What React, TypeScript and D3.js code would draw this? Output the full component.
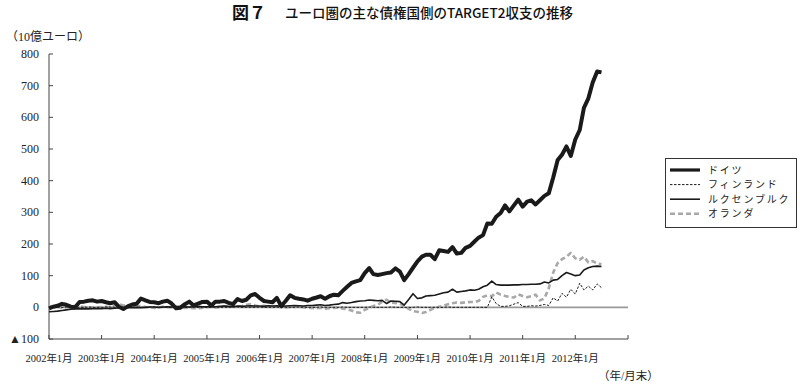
import * as d3 from 'd3';

// monthly, 2002年1月 .. 2012年7月 (10億ユーロ)
const germany = [
  -3, 2, 5, 11, 8, 2, 0, 17, 18, 21, 22, 18,
  20, 16, 13, 16, 2, -5, 3, 9, 11, 28, 22, 17,
  16, 13, 18, 21, 12, -3, -1, 10, 18, 6, 12, 17,
  18, 6, 18, 18, 20, 14, 10, 26, 20, 24, 38, 42,
  30, 20, 18, 16, 30, 4, 20, 38, 30, 27, 25, 21,
  27, 31, 35, 27, 35, 40, 38, 52, 65, 77, 82, 86,
  108, 124, 105, 102, 105, 108, 110, 123, 113, 86, 105, 125,
  145, 160, 166, 166, 152, 180, 178, 175, 190, 170, 172, 188,
  194, 208, 220, 228, 265, 264, 286, 298, 322, 303, 322, 340,
  318, 334, 338, 325, 338, 352, 360, 410, 465, 482, 508, 478,
  530, 560, 630, 660, 710, 745, 742,
];

const finland = [
  1, 1, 0, 0, 1, 2, 1, 0, 0, 1, 0, 0,
  0, 1, 1, 0, 0, 1, 2, 1, 0, 0, 0, 1,
  1, 0, 0, 0, 1, 0, 0, 0, 1, 1, 0, 0,
  0, 0, 1, 0, 0, 0, 1, 1, 0, 0, 0, 0,
  1, 0, 0, 0, 0, 1, 0, 0, 0, 1, 0, 0,
  0, 0, 1, 0, 0, 0, 0, 1, 0, 0, 0, 0,
  0, 1, 0, 0, 0, 0, 1, 0, 0, 0, 0, 0,
  1, 0, 0, 0, 0, 0, 0, 1, 0, 0, 0, 0,
  0, 0, 0, 0, 0, 33, 12, 3, 3, 5, 10, 15,
  3, 3, 5, 4, 6, 9, 6, 30, 20, 44, 32, 57,
  42, 76, 55, 67, 55, 74, 62,
];

const luxembourg = [
  -14, -13, -12, -10, -8, -6, -5, -5, -4, -5, -4, -4,
  -4, -3, -4, -3, -2, -2, -1, -1, 0, -1, 0, 1,
  1, 0, 1, 2, 1, 0, 1, 2, 1, 2, 3, 2,
  2, 3, 2, 3, 4, 3, 2, 4, 3, 4, 5, 4,
  4, 3, 5, 4, 5, 3, 4, 5, 6, 5, 4, 6,
  6, 7, 8, 6, 7, 9, 10, 15, 13, 15, 18, 20,
  21, 23, 22, 21, 22, 12, 20, 19, 18, 7, 25, 43,
  28, 30, 36, 37, 38, 42, 46, 48, 57, 48, 50, 52,
  55, 54, 57, 65, 70, 83, 72, 70, 70, 70, 71, 71,
  72, 72, 73, 73, 74, 80, 77, 86, 88, 100, 110, 105,
  100, 102, 118, 125, 129, 130, 129,
];

const netherlands = [
  2, 3, 1, -1, 0, 2, 4, 3, 1, 0, -1, 0,
  1, 2, 0, 4, 10, 6, 8, 3, 2, 5, 1, 0,
  -2, -1, 2, 1, 0, 3, 2, -2, -1, -3, -4, -1,
  0, 2, -1, 1, 3, 2, 5, 3, 4, 8, 10, 6,
  3, 5, 2, 1, 3, 0, -1, 2, 1, 3, 0, -2,
  -2, -3, -1, -4, -3, -2, -1, -4, -6, -10, -16, -17,
  -8, -2, 4, 8, 18, 24, 15, 14, 12, 4, -5, -12,
  -14, -18, -15, -8, -2, 2, 5, 10, 13, 15, 14, 16,
  17, 17, 20, 33, 38, 35, 47, 40, 36, 33, 31, 41,
  36, 32, 35, 40, 22, 28, 60, 110, 140, 152, 160, 172,
  155, 150, 160, 142, 146, 138, 136,
];

const seriesNames = ['ドイツ', 'フィンランド', 'ルクセンブルク', 'オランダ'];
const yTicks = [-100, 0, 100, 200, 300, 400, 500, 600, 700, 800];
const yearTicks = [2002, 2003, 2004, 2005, 2006, 2007, 2008, 2009, 2010, 2011, 2012, 2013];

const styles = [
  { stroke: '#1a1a1a', width: 4, dash: null },
  { stroke: '#1a1a1a', width: 1, dash: '2.5,1.5' },
  { stroke: '#1a1a1a', width: 1.6, dash: null },
  { stroke: '#a8a8a8', width: 2.6, dash: '5,3' },
];

const serif = '"Liberation Serif", "DejaVu Serif", "Noto Sans CJK JP", serif';
const gothic = '"Noto Sans CJK JP", "Noto Sans", sans-serif';

export default function App() {
  const left = 49, right = 628, top = 54, bottom = 339;

  const x = d3.scaleTime()
    .domain([new Date(2002, 0, 1), new Date(2013, 0, 1)])
    .range([left, right]);
  const y = d3.scaleLinear().domain([-100, 800]).range([bottom, top]);

  const data = [germany, finland, luxembourg, netherlands];
  const line = d3.line<number>()
    .x((_, i) => x(new Date(2002, i, 1)))
    .y(d => y(d));

  return (
    <svg width={800} height={384} style={{ position: 'absolute', left: 0, top: 0, background: '#fff' }}>
      {/* title */}
      <text x={232} y={19} fontFamily={gothic} fontWeight={700} fontSize={17} fill="#111">図７</text>
      <text x={285} y={18} fontFamily={gothic} fontWeight={500} fontSize={13.5} fill="#111">
        ユーロ圏の主な債権国側のTARGET2収支の推移
      </text>
      <text x={6} y={41} fontFamily={serif} fontSize={12} fill="#222">（10億ユーロ）</text>

      {/* zero line */}
      <line x1={left} x2={right} y1={y(0)} y2={y(0)} stroke="#9a9a9a" strokeWidth={1.6} />

      {/* y axis */}
      <line x1={left} x2={left} y1={top} y2={bottom} stroke="#444" strokeWidth={1} />
      {yTicks.map(t => (
        <g key={t}>
          <line x1={left} x2={left + 4} y1={y(t)} y2={y(t)} stroke="#444" />
          <text x={39} y={y(t) + 4} textAnchor="end" fontFamily={serif} fontSize={12} fill="#222">
            {t < 0 ? `▲${-t}` : t}
          </text>
        </g>
      ))}

      {/* x axis */}
      <line x1={left} x2={right} y1={bottom} y2={bottom} stroke="#444" strokeWidth={1} />
      {yearTicks.map(yr => (
        <g key={yr}>
          <line x1={x(new Date(yr, 0, 1))} x2={x(new Date(yr, 0, 1))} y1={bottom} y2={bottom - 4} stroke="#444" />
          {yr < 2013 && (
            <text x={x(new Date(yr, 0, 1))} y={362} textAnchor="middle" fontFamily={serif} fontSize={10.5} fill="#222">
              {`${yr}年1月`}
            </text>
          )}
        </g>
      ))}
      <text x={598} y={380} fontFamily={serif} fontSize={11.5} fill="#222">（年/月末）</text>

      {/* series */}
      {[3, 1, 2, 0].map(k => (
        <path key={k} d={line(data[k]) ?? ''} fill="none" stroke={styles[k].stroke}
          strokeWidth={styles[k].width} strokeDasharray={styles[k].dash ?? undefined}
          strokeLinejoin="round" />
      ))}

      {/* legend */}
      <rect x={665.5} y={158.5} width={131} height={69} fill="#fff" stroke="#333" strokeWidth={1} />
      {seriesNames.map((name, k) => (
        <g key={name} transform={`translate(670,${170 + k * 14.6})`}>
          <line x1={0} x2={30} y1={0} y2={0} stroke={styles[k].stroke}
            strokeWidth={k === 0 ? 3.2 : styles[k].width} strokeDasharray={styles[k].dash ?? undefined} />
          <text x={38} y={3.5} fontFamily={gothic} fontSize={10} letterSpacing={1.8} fill="#222">{name}</text>
        </g>
      ))}
    </svg>
  );
}
